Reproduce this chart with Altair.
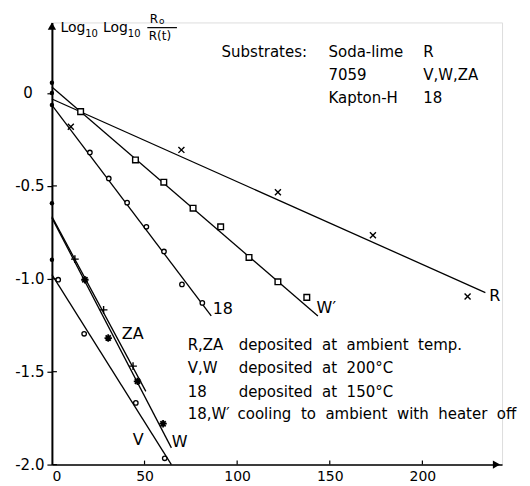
import altair as alt
import pandas as pd

# ---------------- data ----------------
# fitted straight lines: (t0, y0) -> (t1, y1)
line_series = ["R", "W'", "18", "ZA", "W", "V"]
line_t0 = [0, 0, 0, 0, 0, 0]
line_y0 = [-0.032, 0.032, -0.065, -0.665, -0.672, -0.978]
line_t1 = [234.0, 143.6, 86.0, 50.7, 64.5, 64.5]
line_y1 = [-1.074, -1.20, -1.20, -1.606, -1.91, -2.0]

# measured points
r_t = [10.2, 69.9, 122.0, 173.3, 224.4]
r_y = [-0.181, -0.306, -0.534, -0.766, -1.095]
wp_t = [15.5, 45.1, 60.4, 76.2, 91.1, 106.4, 122.0, 137.6]
wp_y = [-0.10, -0.36, -0.48, -0.62, -0.72, -0.885, -1.016, -1.10]
s18_t = [20.5, 30.7, 40.6, 51.0, 60.5, 70.2, 81.2]
s18_y = [-0.32, -0.46, -0.59, -0.72, -0.853, -1.03, -1.13]
v_t = [3.4, 17.4, 45.3, 60.9]
v_y = [-1.005, -1.296, -1.668, -1.966]
za_t = [12.4, 27.9, 43.8]
za_y = [-0.894, -1.167, -1.47]
w_t = [17.8, 30.4, 46.2, 60.0]
w_y = [-1.005, -1.319, -1.552, -1.78]
start_y = [0.055, 0.0, -0.065, -0.593, -0.898]

x_ticks = [0, 50, 100, 150, 200]
y_ticks = [0, -0.5, -1.0, -1.5, -2.0]

# ---------------- tables ----------------
lines_df = pd.DataFrame({
    "series": line_series * 2,
    "t": line_t0 + line_t1,
    "y": line_y0 + line_y1,
})
r_df = pd.DataFrame({"t": r_t, "y": r_y})
wp_df = pd.DataFrame({"t": wp_t, "y": wp_y})
circ_df = pd.DataFrame({"t": s18_t + v_t, "y": s18_y + v_y})
za_df = pd.DataFrame({"t": za_t, "y": za_y})
w_df = pd.DataFrame({"t": w_t, "y": w_y})
start_df = pd.DataFrame({"t": [0] * len(start_y), "y": start_y})

FONT = "DejaVu Sans"
NB = "\u00a0"

xs = alt.Scale(domain=[0, 243], nice=False, zero=False)
ys = alt.Scale(domain=[-2.0, 0.38], nice=False, zero=False)

x_axis = alt.Axis(values=x_ticks, format="d", grid=False, title=None,
                  domainColor="black", domainWidth=1.6, ticks=False,
                  labelFontSize=14, labelFont=FONT,
                  labelColor="black", labelPadding=5, labelBaseline="top")
y_axis = alt.Axis(values=y_ticks, grid=False, title=None,
                  labelExpr="datum.value == 0 ? '' : '-' + format(abs(datum.value), '.1f')",
                  domainColor="black", domainWidth=2, tickColor="black",
                  tickSize=5, tickWidth=1.2, labelFontSize=15, labelFont=FONT,
                  labelColor="black", labelPadding=3)

X = alt.X("t:Q", scale=xs, axis=x_axis)
Y = alt.Y("y:Q", scale=ys, axis=y_axis)
Xn = alt.X("t:Q", scale=xs)
Yn = alt.Y("y:Q", scale=ys)

base_lines = alt.Chart(lines_df).mark_line(color="black", strokeWidth=1.3).encode(
    x=X, y=Y, detail="series:N", order="t:Q")

# inner tick marks (y ticks cross the axis, x ticks point up)
ytick_df = pd.DataFrame({"y": y_ticks[1:]})
ytick_in = alt.Chart(ytick_df).mark_rule(color="black", strokeWidth=1.2).encode(
    y=Yn, x=alt.value(0), x2=alt.value(5))
xtick_df = pd.DataFrame({"t": x_ticks[1:]})
xtick_in = alt.Chart(xtick_df).mark_rule(color="black", strokeWidth=1.2).encode(
    x=Xn, y=alt.value(443), y2=alt.value(439))

# the "0" label of the y axis sits under the leading digit of "-0.5"
zero_df = pd.DataFrame({"label": ["0"], "t": [-12.9], "y": [0.0]})
zero_lab = alt.Chart(zero_df).mark_text(align="center", baseline="middle", font=FONT,
                                        fontSize=15, color="black").encode(
    x=Xn, y=Yn, text="label:N")

cross_x = "M-1,-1L1,1M-1,1L1,-1"
plus = "M-1,0L1,0M0,-1L0,1"
star = "M-1,0L1,0M0,-1L0,1M-0.7,-0.7L0.7,0.7M-0.7,0.7L0.7,-0.7"

r_pts = alt.Chart(r_df).mark_point(shape=cross_x, size=36, stroke="black",
                                   strokeWidth=1.4, filled=False, opacity=1).encode(x=Xn, y=Yn)
wp_pts = alt.Chart(wp_df).mark_point(shape="square", size=32, filled=True, fill="white",
                                     stroke="black", strokeWidth=1.4, opacity=1).encode(x=Xn, y=Yn)
circ_pts = alt.Chart(circ_df).mark_point(shape="circle", size=20, filled=True, fill="white",
                                         stroke="black", strokeWidth=1.3, opacity=1).encode(x=Xn, y=Yn)
za_pts = alt.Chart(za_df).mark_point(shape=plus, size=60, stroke="black",
                                     strokeWidth=1.4, filled=False, opacity=1).encode(x=Xn, y=Yn)
w_pts = alt.Chart(w_df).mark_point(shape=star, size=55, stroke="black",
                                   strokeWidth=1.8, filled=False, opacity=1).encode(x=Xn, y=Yn)
start_pts = alt.Chart(start_df).mark_point(shape="circle", size=20, filled=True,
                                           color="black", opacity=1).encode(x=Xn, y=Yn)

# axis arrowheads
arrow_df = pd.DataFrame({"t": [0.0, 240.0], "y": [0.36, -2.0],
                         "shape": ["triangle-up", "triangle-right"]})
arrows = alt.Chart(arrow_df).mark_point(filled=True, color="black", size=70, opacity=1).encode(
    x=Xn, y=Yn, shape=alt.Shape("shape:N", scale=None))

# text annotations (positions in data units)
ann_text = ["Substrates:", "Soda-lime", "R", "7059", "V,W,ZA", "Kapton-H", "18",
            "R,ZA", f"deposited{NB} at{NB} ambient{NB} temp.",
            "V,W", f"deposited{NB} at{NB} 200°C",
            "18", f"deposited{NB} at{NB} 150°C",
            "18,W′", f"cooling{NB} to{NB} ambient{NB} with{NB} heater{NB} off"]
ann_t = [91.6, 149.3, 200.5, 149.3, 200.5, 149.3, 200.5,
         73.3, 100.8, 73.3, 100.8, 73.3, 100.8, 73.3, 100.2]
ann_y = [0.220, 0.220, 0.220, 0.097, 0.097, -0.027, -0.027,
         -1.355, -1.355, -1.478, -1.478, -1.608, -1.608, -1.726, -1.726]
ann_df = pd.DataFrame({"label": ann_text, "t": ann_t, "y": ann_y})
ann = alt.Chart(ann_df).mark_text(align="left", baseline="middle", font=FONT,
                                  fontSize=15, color="black").encode(
    x=Xn, y=Yn, text="label:N")

lab_text = ["R", "W′", "18", "ZA", "V", "W"]
lab_t = [236.1, 142.9, 86.8, 37.7, 43.7, 64.7]
lab_y = [-1.091, -1.156, -1.161, -1.296, -1.866, -1.876]
lab_df = pd.DataFrame({"label": lab_text, "t": lab_t, "y": lab_y})
labs = alt.Chart(lab_df).mark_text(align="left", baseline="middle", font=FONT,
                                   fontSize=16, color="black").encode(
    x=Xn, y=Yn, text="label:N")

# y-axis title: Log10 Log10 (Ro / R(t))
ttl_text = ["Log", "10", "Log", "10", "R", "o", "R(t)"]
ttl_t = [4.6, 18.0, 27.6, 41.0, 52.8, 57.8, 52.3]
ttl_y = [0.328, 0.301, 0.328, 0.301, 0.376, 0.372, 0.285]
ttl_size = [14, 10, 14, 10, 12, 9, 12]
ttl_df = pd.DataFrame({"label": ttl_text, "t": ttl_t, "y": ttl_y, "fs": ttl_size})
ttl = alt.Chart(ttl_df).mark_text(align="left", baseline="alphabetic", font=FONT,
                                  color="black").encode(
    x=Xn, y=Yn, text="label:N", size=alt.Size("fs:Q", scale=None))
frac_df = pd.DataFrame({"t": [51.5], "t2": [67.5], "y": [0.352]})
frac = alt.Chart(frac_df).mark_rule(color="black", strokeWidth=1.2).encode(
    x=Xn, x2="t2:Q", y=Yn)

chart = alt.layer(base_lines, ytick_in, xtick_in, r_pts, wp_pts, circ_pts, za_pts, w_pts,
                  start_pts, arrows, ann, labs, ttl, frac, zero_lab).properties(
    width=451, height=443,
    autosize=alt.AutoSizeParams(type="none"),
    padding={"left": 44, "top": 14, "right": 20, "bottom": 20},
).configure_view(stroke=None).configure(background="white")

chart.save("out.html", embed_options={"renderer": "svg", "actions": False})
